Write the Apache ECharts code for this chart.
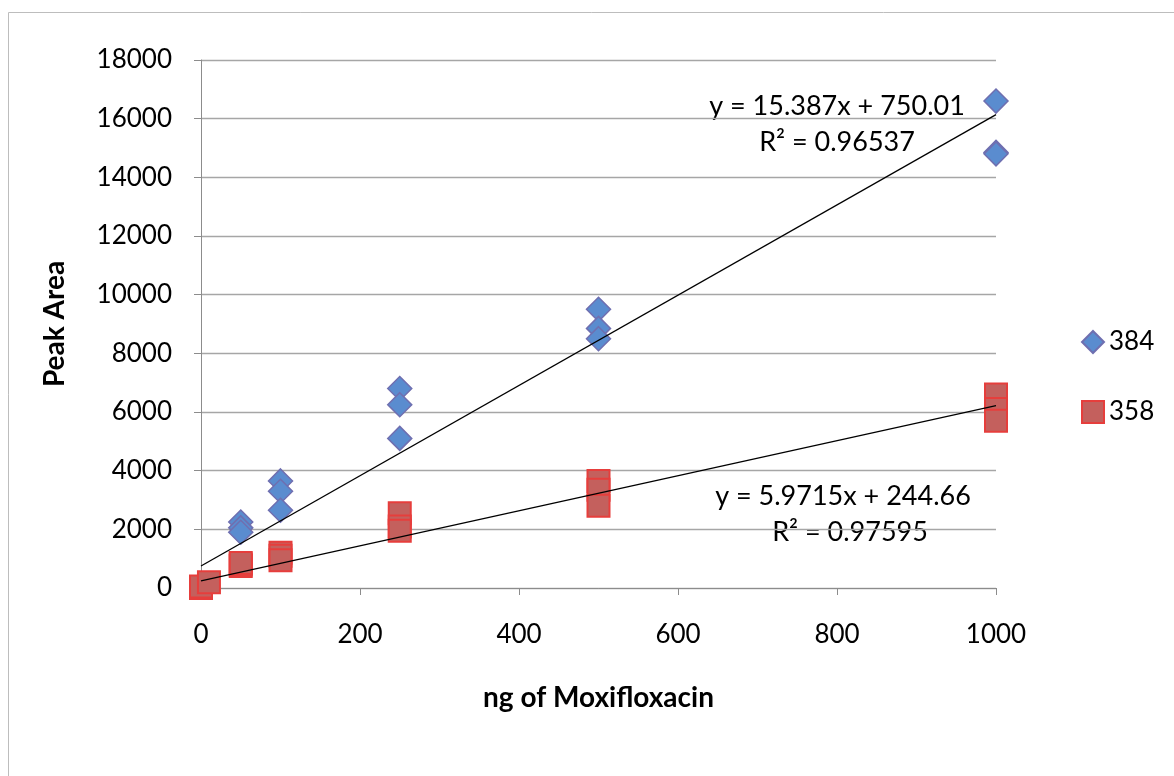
<!DOCTYPE html>
<html><head><meta charset="utf-8">
<script src="https://cdn.jsdelivr.net/npm/echarts@6/dist/echarts.min.js"></script>
<style>html,body{margin:0;padding:0;background:#fff}#c{width:1174px;height:776px}</style>
</head><body><div id="c"></div>
<script>
const xTicks = [0, 200, 400, 600, 800, 1000];
const s384 = [[50,2250],[50,2050],[50,1900],[100,3650],[100,3300],[100,2650],[250,6800],[250,6250],[250,5100],[500,9500],[500,8850],[500,8500],[1000,16600],[1000,14850],[1000,14800]];
const s358 = [[0,0],[0,50],[10,200],[50,750],[50,800],[50,850],[100,1200],[100,1100],[100,950],[250,2550],[250,2100],[250,1950],[500,3650],[500,3350],[500,2800],[1000,6600],[1000,6100],[1000,5700]];
const fit384 = [15.387, 750.01];
const fit358 = [5.9715, 244.66];
const fitX = [0, 1000];
const line = f => fitX.map(x => [x, f[0]*x + f[1]]);
const font = 'Lato, "Open Sans", sans-serif';
const fs = 26;
const chart = echarts.init(document.getElementById('c'));
chart.setOption({
  animation:false,
  grid:{left:201,right:178,top:60,bottom:188},
  xAxis:{type:'value',min:0,max:1000,interval:200,
    axisLine:{lineStyle:{color:'#8c8c8c'}},axisTick:{show:true,length:7,lineStyle:{color:'#8c8c8c'}},
    splitLine:{show:false},
    axisLabel:{color:'#000',fontSize:fs,fontFamily:font,margin:34,formatter:v=>String(v)},
    name:'ng of Moxifloxacin',nameLocation:'middle',nameGap:96,
    nameTextStyle:{color:'#000',fontSize:28,fontWeight:'bold',fontFamily:font}},
  yAxis:{type:'value',min:0,max:18000,interval:2000,
    axisLine:{show:true,lineStyle:{color:'#8c8c8c'}},axisTick:{show:true,length:7,lineStyle:{color:'#8c8c8c'}},
    splitLine:{lineStyle:{color:'#a6a6a6',width:1.3}},
    axisLabel:{color:'#000',fontSize:fs,fontFamily:font,margin:29,formatter:v=>String(v)},
    name:'Peak Area',nameLocation:'middle',nameGap:132,
    nameTextStyle:{color:'#000',fontSize:28,fontWeight:'bold',fontFamily:font}},
  legend:{orient:'vertical',left:1076,top:324,itemGap:44,itemWidth:22,itemHeight:22,
    textStyle:{color:'#000',fontSize:fs,fontFamily:font},
    data:[{name:'384',icon:'diamond'},{name:'358',icon:'rect'}]},
  series:[
    {name:'384',type:'scatter',symbol:'diamond',symbolSize:24,data:s384,z:3,
      itemStyle:{color:'#5a8ccf',borderColor:'#6f6fb0',borderWidth:1.5,opacity:1}},
    {name:'358',type:'scatter',symbol:'rect',symbolSize:22,data:s358,z:4,
      itemStyle:{color:'#c4605d',borderColor:'#e63e3c',borderWidth:2,opacity:1}},
    {name:'fit384',type:'line',data:line(fit384),symbol:'none',lineStyle:{color:'#000',width:1.3},z:5},
    {name:'fit358',type:'line',data:line(fit358),symbol:'none',lineStyle:{color:'#000',width:1.3},z:5}
  ],
  graphic:[
    {type:'rect',shape:{x:8.5,y:12.5,width:1200,height:800},style:{fill:'none',stroke:'#bdbdbd',lineWidth:1},z:-1},
    {type:'text',x:837,y:106,style:{text:'y = 15.387x + 750.01',fontSize:27,fontFamily:font,fill:'#000',align:'center',verticalAlign:'middle'}},
    {type:'text',x:837,y:142,style:{text:'R² = 0.96537',fontSize:27,fontFamily:font,fill:'#000',align:'center',verticalAlign:'middle'}},
    {type:'text',x:843,y:496,style:{text:'y = 5.9715x + 244.66',fontSize:27,fontFamily:font,fill:'#000',align:'center',verticalAlign:'middle'}},
    {type:'text',x:850,y:532,style:{text:'R² = 0.97595',fontSize:27,fontFamily:font,fill:'#000',align:'center',verticalAlign:'middle'}}
  ]
});
</script></body></html>
